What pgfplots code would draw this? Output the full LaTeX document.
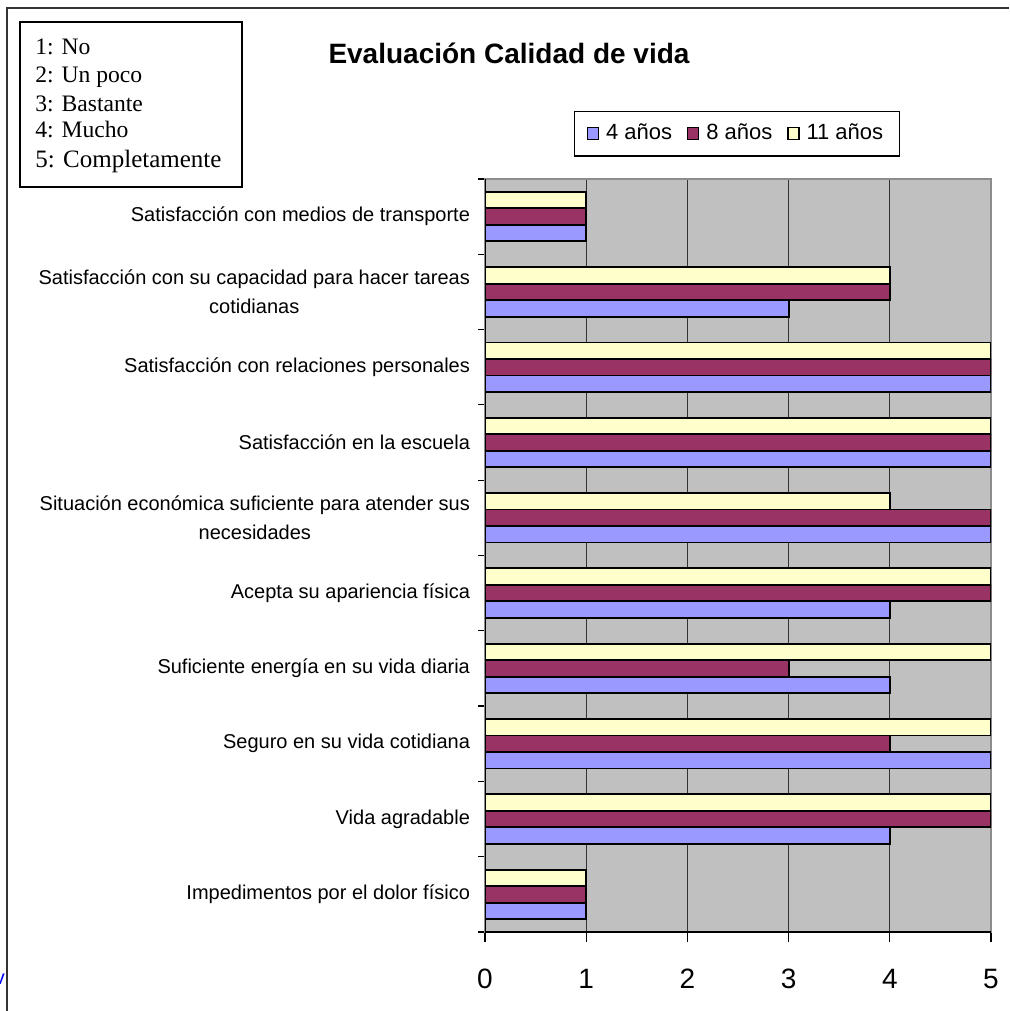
\documentclass[border=0pt]{standalone}
\usepackage{pgfplots}
\pgfplotsset{compat=1.18}
\usepackage{fontspec}
\setmainfont{Liberation Sans}
\newfontfamily\seriffont{Liberation Serif}
\definecolor{cblue}{HTML}{9999FF}
\definecolor{cmaroon}{HTML}{993366}
\definecolor{cyellow}{HTML}{FFFFCC}
\definecolor{cgray}{HTML}{C0C0C0}
\begin{document}
\begin{tikzpicture}
\useasboundingbox (0,0) rectangle (504.5pt,505.5pt);
% outer frame (partial)
\draw[line width=1pt, black!80] (3.5pt,0pt) -- (3.5pt,501.5pt) -- (504.5pt,501.5pt);
% cut-off blue letter
\node[anchor=base east, inner sep=0pt, text=blue, font=\fontsize{10}{12}\selectfont] at (2.6pt,13pt) {v};
% scale box
\draw[line width=0.8pt, black] (10pt,412pt) rectangle (121pt,494.5pt);
\node[anchor=base west, inner sep=0pt, font=\seriffont\fontsize{11.8}{13}\selectfont] at (17.5pt,478pt) {1: No};
\node[anchor=base west, inner sep=0pt, font=\seriffont\fontsize{11.8}{13}\selectfont] at (17.5pt,464pt) {2: Un poco};
\node[anchor=base west, inner sep=0pt, font=\seriffont\fontsize{11.8}{13}\selectfont] at (17.5pt,449.5pt) {3: Bastante};
\node[anchor=base west, inner sep=0pt, font=\seriffont\fontsize{11.8}{13}\selectfont] at (17.5pt,436.5pt) {4: Mucho};
\node[anchor=base west, inner sep=0pt, font=\seriffont\fontsize{12.5}{14}\selectfont] at (17.5pt,421.5pt) {5: Completamente};
% title
\node[font=\bfseries\fontsize{14}{16}\selectfont] at (254.5pt,479pt) {Evaluación Calidad de vida};
\begin{axis}[
  at={(242.5pt,39.5pt)}, anchor=south west,
  scale only axis, width=253pt, height=376.5pt,
  xbar, bar width=8.25pt,
  xmin=0, xmax=5, ymin=-0.5, ymax=9.5,
  axis background/.style={fill=cgray},
  axis line style={draw=black!45, line width=0.6pt},
  xtick={0,1,2,3,4,5},
  xticklabels={0,1,2,3,4,5},
  xmajorgrids, major grid style={black!80, line width=0.5pt},
  ytick={0,...,9},
  minor ytick={-0.5,0.5,...,9.5},
  every major y tick/.append style={draw=none},
  tick align=outside,
  major tick length=5pt, minor tick length=3.5pt,
  tick style={black, line width=0.6pt},
  xtick pos=bottom, ytick pos=left,
  /pgf/number format/assume math mode=true,
  xticklabel style={font=\fontsize{14}{16}\selectfont, text height=10pt, text depth=0pt, yshift=-9.5pt},
  yticklabel style={font=\fontsize{10}{14.5}\selectfont, align=center, xshift=1pt},
  yticklabels={
    Impedimentos por el dolor físico,
    Vida agradable,
    Seguro en su vida cotidiana,
    Suficiente energía en su vida diaria,
    Acepta su apariencia física,
    {Situación económica suficiente para atender sus\\necesidades},
    Satisfacción en la escuela,
    Satisfacción con relaciones personales,
    {Satisfacción con su capacidad para hacer tareas\\cotidianas},
    Satisfacción con medios de transporte},
  legend columns=3,
  legend style={at={(0.498,1.0604)}, anchor=center, draw=black, line width=0.6pt, fill=white,
    font=\fontsize{11}{13}\selectfont, inner xsep=6pt, inner ysep=4.5pt,
    /tikz/every odd column/.append style={column sep=1.5pt},
    /tikz/every even column/.append style={column sep=5.5pt}},
  legend image code/.code={\draw[#1,/tikz/.cd,draw=black,line width=0.6pt] (0pt,-3pt) rectangle (5.5pt,3pt);},
]
\addplot[fill=cblue, draw=black, line width=0.9pt, bar shift=-8.25pt] coordinates {(1,0) (4,1) (5,2) (4,3) (4,4) (5,5) (5,6) (5,7) (3,8) (1,9)};
\addlegendentry{4 años}
\addplot[fill=cmaroon, draw=black, line width=0.9pt, bar shift=0pt] coordinates {(1,0) (5,1) (4,2) (3,3) (5,4) (5,5) (5,6) (5,7) (4,8) (1,9)};
\addlegendentry{8 años}
\addplot[fill=cyellow, draw=black, line width=0.9pt, bar shift=8.25pt] coordinates {(1,0) (5,1) (5,2) (5,3) (5,4) (4,5) (5,6) (5,7) (4,8) (1,9)};
\addlegendentry{11 años}
\draw[black, line width=0.7pt] (rel axis cs:0,1) -- (rel axis cs:0,0) -- (rel axis cs:1,0);
\end{axis}
\end{tikzpicture}
\end{document}
